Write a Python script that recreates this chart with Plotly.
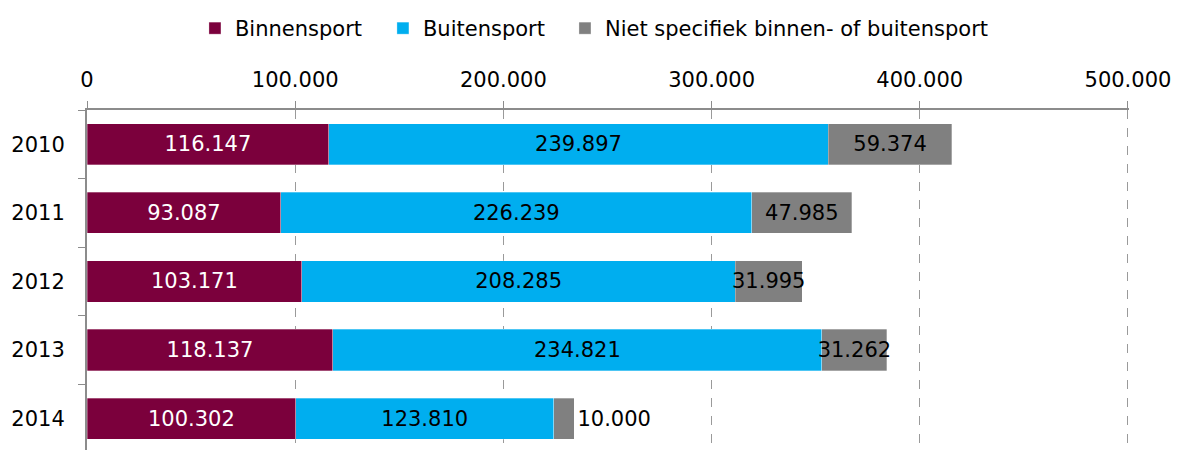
import plotly.graph_objects as go

jaren = ['2010', '2011', '2012', '2013', '2014']
binnensport = [116147, 93087, 103171, 118137, 100302]
buitensport = [239897, 226239, 208285, 234821, 123810]
niet_specifiek = [59374, 47985, 31995, 31262, 10000]

kleuren = {
    'Binnensport': '#7B003C',
    'Buitensport': '#00AEEF',
    'Niet specifiek binnen- of buitensport': '#808080',
}

lettertype = 'DejaVu Sans, Verdana, sans-serif'
grootte = 21

fig = go.Figure()

# elke reeks een eigen legenda, zodat de posities overeenkomen
series = [
    ('Binnensport', binnensport, 'white', 'legend', 0.1036),
    ('Buitensport', buitensport, 'black', 'legend2', 0.2840),
    ('Niet specifiek binnen- of buitensport', niet_specifiek, 'black', 'legend3', 0.4587),
]
for naam, waarden, tekstkleur, leg, _ in series:
    if naam.startswith('Niet'):
        posities = ['outside' if w < 20000 else 'inside' for w in waarden]
    else:
        posities = 'inside'
    fig.add_trace(go.Bar(
        name=naam,
        y=jaren,
        x=waarden,
        orientation='h',
        legend=leg,
        marker_color=kleuren[naam],
        marker_line=dict(color='rgba(255,255,255,0.6)', width=0.5),
        texttemplate='%{x:,d}',
        textposition=posities,
        insidetextanchor='middle',
        textangle=0,
        constraintext='none',
        cliponaxis=False,
        insidetextfont=dict(color=tekstkleur, size=grootte, family=lettertype),
        outsidetextfont=dict(color='black', size=grootte, family=lettertype),
        hoverinfo='skip',
    ))

legendas = {}
for _, _, _, leg, xpos in series:
    legendas[leg] = dict(
        orientation='h',
        x=xpos, xanchor='left',
        y=1.24, yanchor='middle',
        font=dict(size=grootte),
        itemwidth=30,
        bgcolor='rgba(0,0,0,0)',
    )

# pagina heeft 8px marge rondom de figuur
fig.update_layout(
    barmode='stack',
    bargap=0.4,
    width=1173,
    height=442,
    margin=dict(l=79, r=52, t=95, b=0),
    plot_bgcolor='white',
    paper_bgcolor='white',
    separators=',.',
    font=dict(family=lettertype, size=grootte, color='black'),
    uniformtext=dict(minsize=grootte, mode='show'),
    showlegend=True,
    **legendas,
)

fig.update_xaxes(
    side='top',
    range=[0, 500500],
    tickvals=[0, 100000, 200000, 300000, 400000, 500000],
    tickformat=',d',
    showline=True,
    linecolor='#8C8C8C',
    linewidth=2,
    ticks='outside',
    ticklen=7,
    tickcolor='#8C8C8C',
    showgrid=True,
    gridcolor='#9A9A9A',
    griddash='dash',
    gridwidth=1.3,
    zeroline=False,
    automargin=False,
    ticklabelstandoff=6,
)

fig.update_yaxes(
    type='category',
    range=[4.457, -0.5],
    showline=True,
    linecolor='#8C8C8C',
    linewidth=2,
    ticks='outside',
    tickson='boundaries',
    ticklen=7,
    tickcolor='#8C8C8C',
    showgrid=False,
    ticklabelstandoff=16,
    automargin=False,
)

fig.write_html("out.html")
